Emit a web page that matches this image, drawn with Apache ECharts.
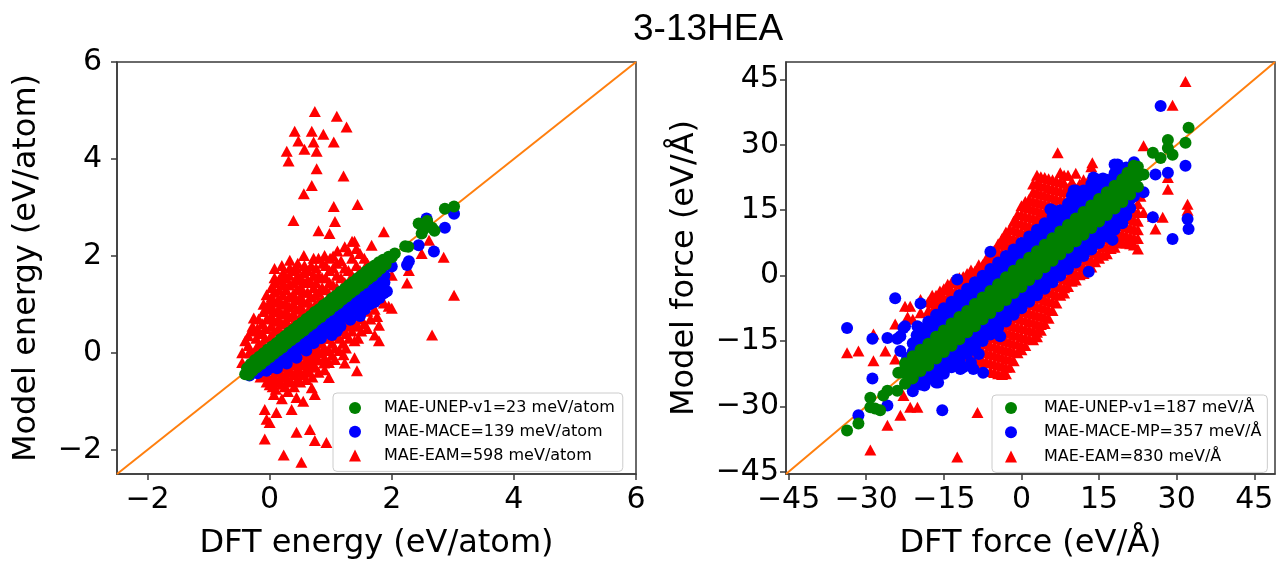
<!DOCTYPE html>
<html><head><meta charset="utf-8">
<script src="https://cdn.jsdelivr.net/npm/echarts@6/dist/echarts.min.js"></script>
<style>html,body{margin:0;padding:0;background:#fff}#chart{width:1278px;height:565px}</style>
</head><body><div id="chart"></div>
<script>
// ---------- texts ----------
const chartTitle = '3-13HEA';
const energyNames = ['MAE-UNEP-v1=23 meV/atom', 'MAE-MACE=139 meV/atom', 'MAE-EAM=598 meV/atom'];
const forceNames = ['MAE-UNEP-v1=187 meV/Å', 'MAE-MACE-MP=357 meV/Å', 'MAE-EAM=830 meV/Å'];
const energyTicks = [-2, 0, 2, 4, 6];
const forceTicks = [-45, -30, -15, 0, 15, 30, 45];
const energyRange = [-2.5, 6];
const forceRange = [-45.5, 49];

// ---------- energy panel (eV/atom): [DFT, model] ----------
const energyUNEP = [
[-0.40,-0.44],[-0.37,-0.32],[-0.34,-0.45],[-0.31,-0.23],[-0.28,-0.37],[-0.24,-0.15],[-0.21,-0.30],[-0.17,-0.08],[-0.14,-0.23],[-0.10,-0.01],
[-0.07,-0.16],[-0.03,0.07],[0.00,-0.09],[0.04,0.13],[0.07,-0.02],[0.11,0.20],[0.14,0.05],[0.18,0.28],[0.21,0.11],[0.25,0.34],
[0.28,0.19],[0.32,0.42],[0.35,0.26],[0.39,0.48],[0.42,0.32],[0.46,0.56],[0.49,0.40],[0.53,0.62],[0.56,0.46],[0.60,0.70],
[0.63,0.54],[0.67,0.76],[0.70,0.60],[0.74,0.84],[0.77,0.68],[0.81,0.90],[0.84,0.74],[0.88,0.98],[0.91,0.82],[0.95,1.04],
[0.98,0.88],[1.02,1.12],[1.05,0.96],[1.09,1.18],[1.12,1.02],[1.16,1.26],[1.19,1.10],[1.23,1.32],[1.26,1.16],[1.30,1.40],
[1.33,1.24],[1.37,1.46],[1.40,1.30],[1.44,1.54],[1.47,1.38],[1.51,1.60],[1.54,1.44],[1.58,1.68],[1.61,1.52],[1.65,1.74],
[1.68,1.58],[1.72,1.80],[1.75,1.66],[1.79,1.87],[1.82,1.74],[1.86,1.92],[1.90,1.82],[1.95,1.98],[2.00,1.97],[2.05,2.05],
[0.50,0.48],[1.00,1.00],[1.50,1.49],[0.00,0.01],
[2.22,2.20],[2.27,2.19],[2.44,2.67],[2.49,2.46],[2.52,2.55],[2.58,2.72],[2.66,2.58],[2.70,2.52],[2.87,2.97],[3.02,3.02]
];
const energyMACE = [
[-0.33,-0.47],[-0.28,-0.38],[-0.20,-0.42],[-0.20,-0.30],[-0.12,-0.36],[-0.12,-0.25],[-0.05,-0.37],[-0.05,-0.20],[0.05,-0.30],[0.05,-0.12],
[0.12,-0.20],[0.12,-0.05],[0.12,-0.32],[0.20,-0.15],[0.20,0.02],[0.28,-0.08],[0.28,0.10],[0.28,-0.22],[0.36,0.00],[0.36,0.16],
[0.44,0.05],[0.44,0.24],[0.44,-0.10],[0.52,0.12],[0.52,0.30],[0.60,0.20],[0.60,0.38],[0.60,0.05],[0.68,0.28],[0.68,0.45],
[0.72,0.20],[0.76,0.35],[0.76,0.52],[0.84,0.42],[0.84,0.60],[0.84,0.30],[0.92,0.50],[0.92,0.68],[1.00,0.55],[1.00,0.75],
[1.00,0.40],[1.02,0.37],[1.08,0.64],[1.08,0.82],[1.10,0.45],[1.16,0.72],[1.16,0.90],[1.16,0.55],[1.24,0.80],[1.24,0.98],
[1.32,0.86],[1.32,1.05],[1.32,0.68],[1.40,0.95],[1.40,1.12],[1.48,1.00],[1.48,1.20],[1.48,0.76],[1.56,1.10],[1.56,1.28],
[1.56,0.90],[1.64,1.20],[1.64,1.36],[1.64,1.00],[1.72,1.25],[1.72,1.45],[1.72,1.05],[1.80,1.13],[1.80,1.35],[1.80,1.50],
[1.88,1.25],[1.88,1.45],[1.88,1.60],[1.92,1.27],[1.84,1.48],[1.87,1.23],[2.00,1.78],[2.25,1.81],[2.28,1.89],[2.44,2.22],
[2.57,2.77],[2.69,2.09],[2.87,2.58],[3.02,2.87]
];
const energyEAM = [
[0.74,4.98],[1.10,4.88],[1.26,4.66],[0.41,4.57],[0.69,4.57],[0.88,4.51],[0.47,4.37],[0.72,4.35],[1.05,4.35],[0.28,4.16],
[0.57,4.20],[0.77,4.16],[0.31,3.96],[0.77,3.80],[1.21,3.65],[0.69,3.45],[0.56,3.28],[1.05,3.02],[1.44,3.06],[0.39,2.73],
[1.07,2.71],[0.80,2.52],[0.98,2.46],[1.87,2.50],[1.39,2.30],[1.67,2.22],
[-0.45,-0.20],[-0.45,0.00],[-0.35,0.15],[-0.35,0.35],[-0.28,0.55],[-0.26,0.72],[-0.22,-0.05],[-0.22,0.10],[-0.22,0.30],[-0.20,0.50],
[-0.12,0.00],[-0.12,0.20],[-0.12,0.40],[-0.12,0.60],[-0.10,0.85],[-0.10,1.00],[-0.05,1.20],[-0.05,0.70],[0.02,0.15],[0.02,0.35],
[0.02,0.55],[0.02,0.75],[0.02,0.95],[0.03,1.15],[0.03,1.35],[0.08,1.55],[0.08,1.74],[0.14,0.30],[0.14,0.50],[0.14,0.70],
[0.14,0.90],[0.14,1.10],[0.15,1.30],[0.15,1.50],[0.22,1.65],[0.22,1.40],[0.22,1.20],[0.26,0.45],[0.26,0.65],[0.26,0.85],
[0.26,1.05],[0.27,1.30],[0.27,1.55],[0.33,1.91],[0.33,1.75],[0.38,0.60],[0.38,0.80],[0.38,1.00],[0.38,1.20],[0.39,1.45],
[0.39,1.70],[0.46,1.85],[0.46,1.60],[0.50,0.75],[0.50,0.95],[0.50,1.15],[0.50,1.35],[0.50,1.55],[0.56,2.01],[0.57,1.80],
[0.62,0.85],[0.62,1.05],[0.62,1.25],[0.62,1.50],[0.63,1.70],[0.72,1.95],[0.72,1.60],[0.72,1.35],[0.75,1.00],[0.75,1.20],
[0.76,1.45],[0.76,1.75],[0.86,1.10],[0.86,1.35],[0.86,1.55],[0.87,1.85],[0.90,2.01],[0.98,1.20],[0.98,1.45],[0.98,1.70],
[0.99,1.95],[1.10,1.35],[1.10,1.60],[1.10,1.85],[1.11,2.10],[1.23,1.45],[1.23,1.75],[1.23,2.19],[1.35,1.60],[1.35,1.95],
[1.35,2.30],[1.48,1.70],[1.48,2.05],[1.60,1.85],
[-0.40,0.25],[-0.30,0.00],[-0.30,0.45],[-0.18,0.15],[-0.18,0.70],[-0.17,0.40],[-0.07,0.10],[-0.07,0.30],[-0.07,0.50],[-0.03,0.90],
[0.00,1.05],[0.08,0.25],[0.08,0.45],[0.08,0.65],[0.08,0.85],[0.08,1.05],[0.09,1.25],[0.09,1.45],[0.20,0.40],[0.20,0.60],
[0.20,0.80],[0.20,1.00],[0.20,1.50],[0.20,1.80],[0.32,0.55],[0.32,0.75],[0.32,0.95],[0.32,1.15],[0.32,1.40],[0.32,1.60],
[0.44,0.70],[0.44,0.90],[0.44,1.10],[0.44,1.30],[0.44,1.50],[0.44,1.75],[0.56,0.85],[0.56,1.05],[0.56,1.25],[0.56,1.45],
[0.56,1.65],[0.68,0.95],[0.68,1.15],[0.68,1.45],[0.68,1.80],[0.80,1.05],[0.80,1.25],[0.80,1.60],[0.80,1.95],[0.92,1.30],
[0.92,1.55],[0.92,1.80],[1.04,1.40],[1.04,1.75],[1.04,2.00],[1.17,1.55],[1.17,1.90],[1.29,1.70],[1.29,2.10],[1.42,1.80],
[1.42,2.15],[1.55,1.95],
[-0.15,-0.35],[-0.15,-0.50],[-0.05,-0.45],[-0.05,-0.60],[-0.05,-0.30],[0.05,-0.30],[0.05,-0.50],[0.05,-0.70],[0.07,-0.86],[0.15,-0.20],
[0.15,-0.40],[0.15,-0.60],[0.25,-0.10],[0.25,-0.30],[0.25,-0.50],[0.25,-0.70],[0.35,0.00],[0.35,-0.20],[0.35,-0.40],[0.35,-0.60],
[0.45,0.05],[0.45,-0.15],[0.45,-0.35],[0.45,-0.55],[0.44,-0.92],[0.55,0.15],[0.55,-0.05],[0.55,-0.25],[0.55,-0.45],[0.65,0.20],
[0.65,0.00],[0.65,-0.20],[0.65,-0.40],[0.69,-0.72],[0.75,0.30],[0.75,0.10],[0.75,-0.10],[0.75,-0.30],[0.74,-0.86],[0.85,0.40],
[0.85,0.20],[0.85,0.00],[0.89,-0.21],[0.97,0.50],[0.97,0.30],[0.97,0.05],[0.97,-0.20],[0.97,-0.51],[1.07,0.60],[1.07,0.35],
[1.07,0.10],[1.07,-0.14],[1.20,0.70],[1.20,0.45],[1.20,0.20],[1.21,-0.04],[1.23,-0.21],[1.30,0.80],[1.30,0.55],[1.30,0.30],
[1.40,0.85],[1.40,0.60],[1.39,0.25],[1.39,-0.10],[1.43,-0.37],[1.50,1.00],[1.50,0.70],[1.50,0.45],[1.60,1.10],[1.60,0.86],
[1.60,0.50],[1.72,1.20],[1.72,0.90],[1.72,0.37],[1.79,0.57],[1.79,0.25],[1.87,1.03],[1.95,0.96],[2.00,0.92],[2.00,1.60],
[-0.10,-0.40],[0.00,-0.55],[0.10,-0.35],[0.10,-0.55],[0.10,-0.75],[0.20,-0.25],[0.20,-0.45],[0.20,-0.65],[0.30,-0.15],[0.30,-0.35],
[0.30,-0.55],[0.40,-0.05],[0.40,-0.25],[0.40,-0.45],[0.40,-0.70],[0.50,0.00],[0.50,-0.20],[0.50,-0.40],[0.50,-0.60],[0.60,0.05],
[0.60,-0.15],[0.60,-0.35],[0.60,-0.55],[0.70,0.15],[0.70,-0.05],[0.70,-0.25],[0.70,-0.50],[0.80,0.25],[0.80,0.05],[0.80,-0.15],
[0.80,-0.40],[0.90,0.30],[0.90,0.10],[0.90,-0.10],[0.90,-0.35],[1.02,0.45],[1.02,0.20],[1.02,-0.05],[1.14,0.55],[1.14,0.30],
[1.14,0.05],[1.25,0.65],[1.25,0.40],[1.25,0.10],[1.35,0.70],[1.35,0.45],[1.45,0.80],[1.45,0.55],[1.45,0.30],[1.55,0.90],
[1.55,0.60],[1.65,1.00],[1.65,0.70],[1.76,1.10],[1.76,0.75],
[-0.34,0.00],[-0.10,0.04],[0.00,-0.66],[-0.08,-1.17],[0.11,-1.23],[0.36,-1.17],[-0.05,-1.37],[0.00,-1.44],[0.44,-1.64],[0.66,-1.58],
[0.74,-1.81],[0.93,-1.85],[-0.08,-1.78],[0.23,-2.11],[0.52,-2.26],[0.20,-0.95],[0.55,-1.00],[0.30,-0.80],
[2.25,1.44],[2.28,1.70],[2.49,2.05],[2.61,2.32],[2.85,1.97],[3.02,1.19],[2.66,0.37]
];

// ---------- force panel (eV/Å): columns [DFT, model, model, ...] + scattered points ----------
const forceUNEPCols = [
[-22.5,-24.8,-22.3,-20.1],[-21,-23.4,-20.8,-18.5],[-19.5,-21.9,-19.4,-17.0],[-18,-20.6,-17.8,-15.6],[-16.5,-19.0,-16.3,-14.0],
[-15,-17.5,-14.8,-12.6],[-13.5,-16.1,-13.4,-11.0],[-12,-14.6,-11.9,-9.5],[-10.5,-13.0,-10.4,-8.1],[-9,-11.6,-8.9,-6.5],
[-7.5,-10.0,-7.4,-5.0],[-6,-8.6,-5.9,-3.5],[-4.5,-7.0,-4.4,-2.0],[-3,-5.6,-2.9,-0.4],[-1.5,-4.0,-1.4,1.1],
[0,-2.6,0.1,2.6],[1.5,-1.0,1.6,4.1],[3,0.4,3.1,5.6],[4.5,1.9,4.6,7.1],[6,3.4,6.1,8.6],
[7.5,4.9,7.6,10.1],[9,6.4,9.1,11.6],[10.5,7.9,10.6,13.1],[12,9.4,12.1,14.6],[13.5,10.9,13.6,16.1],
[15,12.4,15.1,17.6],[16.5,13.9,16.6,19.1],[18,15.4,18.1,20.6],[19.5,16.9,19.6,22.1],[21,18.6,21.2,23.6],[22.5,20.4,22.8,25.0],
[-21.75,-23,-20.5],[-20.25,-21.5,-19],[-18.75,-20,-17.5],[-17.25,-18.5,-16],[-15.75,-17,-14.5],[-14.25,-15.5,-13],
[-12.75,-14,-11.5],[-11.25,-12.5,-10],[-9.75,-11,-8.5],[-8.25,-9.5,-7],[-6.75,-8,-5.5],[-5.25,-6.5,-4],[-3.75,-5,-2.5],
[-2.25,-3.5,-1],[-0.75,-2,0.5],[0.75,-0.5,2],[2.25,1,3.5],[3.75,2.5,5],[5.25,4,6.5],[6.75,5.5,8],[8.25,7,9.5],
[9.75,8.5,11],[11.25,10,12.5],[12.75,11.5,14],[14.25,13,15.5],[15.75,14.5,17],[17.25,16,18.5],[18.75,17.5,20],
[20.25,19,21.5],[21.75,20.5,23]
];
const forceUNEPPts = [
[32.3,33.9],[31.7,30.5],[28.3,31.1],[28.3,29.3],[25.4,28.2],[26.9,27.0],[29.2,27.7],[21.7,25.2],[23.6,23.2],[20.5,23.6],
[-23.8,-22.3],[-22.5,-21.4],[-21.1,-23.6],[-20.1,-19.1],[-18.2,-20],[-29.2,-28],[-25.9,-26.4],[-24,-26.4],[-28.3,-30.5],[-27.3,-30.9],
[-29.2,-30.2],[-31.5,-33.9],[-33.7,-35.5],[-26.7,-27.5],[-23,-22.3]
];
const forceMACECols = [
[-21,-17.5,-15.5,-24.5,-26.5],[-20.25,-15.7,-13.7,-24.7],[-19.5,-16,-14,-12,-23,-25],[-18.75,-14.2,-12.2,-23.2,-25.2],
[-18,-14.5,-12.5,-10.5,-21.5,-23.5],[-17.25,-12.7,-10.7,-21.7,-23.7],[-16.5,-13,-11,-9,-20,-22,-24.5],[-15.75,-11.2,-9.2,-20.2,-22.2],
[-15,-11.5,-9.5,-7.5,-18.5,-20.5,-22.5],[-14.25,-9.7,-7.7,-18.7,-20.7],[-13.5,-10,-8,-6,-17,-19,-21],[-12.75,-8.2,-6.2,-17.2,-19.2],
[-12,-8.5,-6.5,-4.5,-15.5,-17.5,-19.5],[-11.25,-6.7,-4.7,-15.7,-17.7,-21],[-10.5,-7,-5,-3,-14,-16,-18],[-9.75,-5.2,-3.2,-14.2,-16.2,-20],
[-9,-5.5,-3.5,-1.5,-12.5,-14.5,-16.5],[-8.25,-3.7,-1.7,-12.7,-14.7,-18],[-7.5,-4,-2,0,-11,-13,-15],[-6.75,-2.2,-0.2,-11.2,-13.2],
[-6,-2.5,-0.5,1.5,-9.5,-11.5,-13.5],[-5.25,-0.7,1.3,-9.7,-11.7],[-4.5,-1,1,3,-8,-10,-12],[-3.75,0.8,2.8,-8.2,-10.2],
[-3,0.5,2.5,4.5,-6.5,-8.5,-10.5],[-2.25,2.3,4.3,-6.7,-8.7],[-1.5,2,4,6,-5,-7,-9],[-0.75,3.8,5.8,-5.2,-7.2],
[0,3.5,5.5,7.5,-3.5,-5.5,-7.5],[0.75,5.3,7.3,-3.7,-5.7],[1.5,5,7,9,-2,-4,-6],[2.25,6.8,8.8,-2.2,-4.2],
[3,6.5,8.5,10.5,-0.5,-2.5,-4.5],[3.75,8.3,10.3,-0.7,-2.7],[4.5,8,10,12,1,-1,-3],[5.25,9.8,11.8,0.8,-1.2],
[6,9.5,11.5,13.5,15,2.5,0.5,-1.5],[6.75,11.3,13.3,2.3,0.3],[7.5,11,13,15,4,2,0],[8.25,12.8,14.8,3.8,1.8],
[9,12.5,14.5,16.5,5.5,3.5,1.5],[9.75,14.3,16.3,18.3,5.3,3.3],[10.5,14,16,18,19.5,7,5,3],[11.25,15.8,17.8,6.8,4.8],
[12,15.5,17.5,19.5,8.5,6.5,4.5],[12.75,17.3,19.3,8.3,6.3],[13.5,17,19,21,10,8,6],[14.25,18.8,20.8,9.8,7.8],
[15,18.5,20.5,22,11.5,9.5,7.5],[15.75,20.3,22.3,11.3,9.3],[16.5,20,22,13,11,9],[17.25,21.8,12.8,10.8],
[18,21.5,23.5,25.5,14.5,12.5,10.5],[18.75,23.3,14.3,12.3],[19.5,23,24.5,16,14,12],[20.25,24.8,15.8,13.8],
[21,24.5,17.5,15.5],[21.75,26,18.2]
];
const forceMACEPts = [
[26.9,38.9],[31.7,25.2],[28.3,23.6],[25.9,23.2],[23.6,19.1],[25.4,13.4],[29.2,8.4],[32.1,13.0],[32.3,10.7],[18.6,25.5],
[17.6,8.2],[13.0,0.9],[13.9,22.5],[10.1,19.5],[5.6,15.2],[-6,5.5],[-12.4,-0.9],[-19.5,-6.4],[-24.4,-5.2],[-20.1,-11.6],
[-22.5,-11.6],[-22.8,-12],[-23.4,-13.9],[-24,-14.5],[-25.9,-14.3],[-28.8,-14.5],[-33.7,-12],[-23.4,-17.3],[-22.1,-18.9],[-28.8,-23.6],
[-31.5,-32],[-25.9,-29.8],[-15.3,-30.9],[-16.1,-24.5],[-19,-24.5],[-7.4,-22.3],[-9.3,-21.4],[-11.8,-21.4],[-15.1,-21.1],[-4.1,-13.9]
];
const forceEAMCols = [
[-18,-14,-12,-10,-8,-6,-21],[-17.25,-12.2,-10.2,-8.2,-6.2,-4.5,-21.5],[-16.5,-12.5,-10.5,-8.5,-6.5,-4.5,-20.5,-22],
[-15.75,-10.7,-8.7,-6.7,-4.7,-3.5,-20.7],[-15,-11,-9,-7,-5,-3,-19,-21],[-14.25,-9.2,-7.2,-5.2,-3.2,-2,-19.2],
[-13.5,-9.5,-7.5,-5.5,-3.5,-1.5,-17.5,-19.5],[-12.75,-7.7,-5.7,-3.7,-1.7,-17.7,-19.7],[-12,-8,-6,-4,-2,-0.5,-16,-18,-20],
[-11.25,-6.2,-4.2,-2.2,-0.2,-16.2,-18.2],[-10.5,-6.5,-4.5,-2.5,-0.5,0.5,-14.5,-16.5,-18.5],[-9.75,-4.7,-2.7,-0.7,1.3,-14.7,-16.7,-18.7],
[-9,-5,-3,-1,1,-13,-15,-17,-19,-20],[-8.25,-3.2,-1.2,0.8,2.5,-13.2,-15.2,-17.2,-19.2],
[-7.5,-3.5,-1.5,0.5,2.5,-11.5,-13.5,-15.5,-17.5,-19.5,-21],[-6.75,-1.7,0.3,2.3,4,-11.7,-13.7,-15.7,-17.7,-19.7],
[-6,-2,0,2,4,5,-10,-12,-14,-16,-18,-20,-22],[-5.25,-0.2,1.8,3.8,5.8,-10.2,-12.2,-14.2,-16.2,-18.2,-20.2,-22.2],
[-4.5,-0.5,1.5,3.5,5.5,7.3,-8.5,-10.5,-12.5,-14.5,-16.5,-18.5,-20.5,-22.5],
[-3.75,1.2,3.2,5.2,7.2,8.5,-8.7,-10.7,-12.7,-14.7,-16.7,-18.7,-20.7,-22.7],
[-3,1,3,5,7,9,10,-7,-9,-11,-13,-15,-17,-19,-21,-22.5],[-2.25,2.7,4.7,6.7,8.7,10.7,-7.2,-9.2,-11.2,-13.2,-15.2,-17.2,-19.2,-21],
[-1.5,2.5,4.5,6.5,8.5,10.5,12.5,-5.5,-7.5,-9.5,-11.5,-13.5,-15.5,-17.5,-19.5],
[-0.75,4.2,6.2,8.2,10.2,12.2,14,-5.7,-7.7,-9.7,-11.7,-13.7,-15.7,-17.7],
[0,4,6,8,10,12,14,16,-4,-6,-8,-10,-12,-14,-16,-17],[0.75,5.7,7.7,9.7,11.7,13.7,15.7,17,-4.2,-6.2,-8.2,-10.2,-12.2,-14.2,-16],
[1.5,5.5,7.5,9.5,11.5,13.5,15.5,17.5,-2.5,-4.5,-6.5,-8.5,-10.5,-12.5,-14.5],
[2.25,7.2,9.2,11.2,13.2,15.2,17.2,19.2,21,-2.7,-4.7,-6.7,-8.7,-10.7,-12.7,-14.7],
[3,7,9,11,13,15,17,19,21,23,-1,-3,-5,-7,-9,-11,-13,-14],[3.75,8.7,10.7,12.7,14.7,16.7,18.7,20.7,22.7,-1.2,-3.2,-5.2,-7.2,-9.2,-11.2,-12.5],
[4.5,8.5,10.5,12.5,14.5,16.5,18.5,20.5,22.5,0.5,-1.5,-3.5,-5.5,-7.5,-9.5,-11],[5.25,10.2,12.2,14.2,16.2,18.2,20.2,22.2,0.2,-1.8,-3.8,-5.8,-7.8,-9.8],
[6,10,12,14,16,18,20,22,2,0,-2,-4,-6,-8],[6.75,11.7,13.7,15.7,17.7,19.7,21.7,1.7,-0.3,-2.3,-4.3,-6.3],
[7.5,11.5,13.5,15.5,17.5,19.5,21.5,23.6,3.5,1.5,-0.5,-2.5,-4.5],[8.25,13.2,15.2,17.2,19.2,21.2,23,3.2,1.2,-0.8,-2.8,-4],
[9,14,17,20,23,5,3,1,-1,-2.5],[9.75,15.7,18.7,21.5,4.7,2.7,0.7,-1.3],
[10.5,15.5,20,23.5,6.5,4.5,2.5,0.5,-1],[11.25,17,21,6.2,4.2,2.2,0.2],
[12,16.5,19,22,8,6,4,2,0.5],[12.75,18,21.5,7.7,5.7,3.7,1.7],
[13.5,17.5,20.5,25,9.5,7.5,5.5,3.5,2],[14.25,19.2,9.2,7.2,5.2,3.2],
[15,19,22,11,9,7,5,4],[15.75,20.5,10.7,8.7,6.7,4.7],[16.5,20.5,12.5,10.5,8.5,6.5,5],
[17.25,21.5,12.2,10.2,8.2,6.2],[18,21,14,12,10,8,6.5],[18.75,13.7,11.7,9.7,7.7],[19.5,15.5,13.5,11.5,9.5,7.5],
[20.25,15.2,13.2,11.2,9.2,7.5],[21,17,15,13,11,9,7.3],[21.75,14.7,12.7,10.7,8.7,7],[22.5,16.5,14.5,12.5,10.5,8.5,6.1]
];
const forceEAMPts = [
[-22.5,-7],[-21.5,-7],[-22,-9.5],[-21,-10],[-19.5,-5.5],[-19.5,-8.5],[-20,-12],[-19,-17.5],[-21.5,-19],[-20.5,-20],
[-22.8,-27.5],[-21.5,-30.2],[-20.1,-30.2],[-23.4,-32],[-25.9,-34.3],[-29.2,-40],[-12.4,-41.6],[-8.5,-31.4],
[-33.7,-17.7],[-31.5,-17.3],[-28.6,-19.5],[-24.4,-19.1],[-26.3,-17.3],[-24.4,-11.1],[-28.6,-13.4],[-16.3,-4.8],
[7,28.2],[13.7,25.9],[23.6,29.8],[29.2,39.1],[31.7,44.5],[23,18.2],[23.6,14.5],[25.4,13.6],[27.3,13.4],[25.9,10.7],
[28.3,22.5],[28.3,19.8],[32.1,16.4],[32.1,15],[21.1,8],[19.2,7.7],[16.6,19.1],[17.2,21.4]
];

// ---------- helpers ----------
const expandCols = cols => cols.flatMap(c => c.slice(1).map(y => [c[0], y]));
const forceUNEP = expandCols(forceUNEPCols).concat(forceUNEPPts);
const forceMACE = expandCols(forceMACECols).concat(forceMACEPts);
const forceEAM = expandCols(forceEAMCols).concat(forceEAMPts);

const FONT = 'DejaVu Sans';
const spine = {color: '#3a3a3a', width: 1.5};
const green = '#008000', blue = '#0000ff', red = '#ff0000', orange = '#ff7f0e';
const fmt = v => (v < 0 ? '\u2212' + Math.abs(v) : String(v));

function makeAxis(gridIndex, range, ticks, name, nameGap, labelMargin) {
  return {
    gridIndex, type: 'value', min: range[0], max: range[1],
    name, nameLocation: 'middle', nameGap,
    nameTextStyle: {fontFamily: FONT, fontSize: 32, color: '#000'},
    axisLine: {show: true, onZero: false, lineStyle: spine},
    axisTick: {show: true, inside: false, length: 6, lineStyle: spine, customValues: ticks},
    axisLabel: {customValues: ticks, formatter: fmt, fontFamily: FONT, fontSize: 30, color: '#000', margin: labelMargin},
    splitLine: {show: false}
  };
}
function scatter(name, data, xi, color, symbol) {
  return {
    name, type: 'scatter', xAxisIndex: xi, yAxisIndex: xi, data,
    symbol, symbolSize: symbol === 'triangle' ? [12, 11] : 12,
    itemStyle: {color, opacity: 1}, z: 3, silent: true
  };
}
function diag(range, xi) {
  return {
    type: 'line', xAxisIndex: xi, yAxisIndex: xi, data: [[range[0], range[0]], [range[1], range[1]]],
    symbol: 'none', lineStyle: {color: orange, width: 2}, z: 2, silent: true
  };
}
function legend(names, left, top, padding, textGap, gap) {
  return {
    left, top, orient: 'vertical', itemWidth: 12, itemHeight: 12, itemGap: gap, padding,
    selectedMode: false,
    backgroundColor: 'rgba(255,255,255,0.85)', borderColor: '#cccccc', borderWidth: 1, borderRadius: 4,
    data: [{name: names[0], icon: 'circle'}, {name: names[1], icon: 'circle'}, {name: names[2], icon: 'triangle'}],
    formatter: n => '{g| }' + n,
    textStyle: {fontFamily: FONT, fontSize: 16, color: '#000', lineHeight: 18,
                rich: {g: {width: textGap, fontSize: 16, lineHeight: 18}}}
  };
}

const chart = echarts.init(document.getElementById('chart'), null, {renderer: 'canvas'});
chart.setOption({
  animation: false,
  backgroundColor: '#fff',
  title: {text: chartTitle, left: 633, top: 11, padding: 0,
          textStyle: {fontFamily: 'Liberation Sans', fontSize: 37, fontWeight: 'normal', color: '#000'}},
  grid: [
    {left: 117, top: 62, width: 519, height: 415, show: true, borderColor: '#3a3a3a', borderWidth: 1.5},
    {left: 786, top: 62, width: 489, height: 416, show: true, borderColor: '#3a3a3a', borderWidth: 1.5}
  ],
  xAxis: [
    makeAxis(0, energyRange, energyTicks, 'DFT energy (eV/atom)', 54, 11),
    makeAxis(1, forceRange, forceTicks, 'DFT force (eV/Å)', 54, 11)
  ],
  yAxis: [
    makeAxis(0, energyRange, energyTicks, 'Model energy (eV/atom)', 74, 15),
    makeAxis(1, forceRange, forceTicks, 'Model force (eV/Å)', 85, 7)
  ],
  legend: [
    legend(energyNames, 333, 393, [6, 8, 7, 16], 18, 5.7),
    legend(forceNames, 992, 395, [4, 6, 7, 13], 22, 6.2)
  ],
  series: [
    diag(energyRange, 0),
    scatter(energyNames[2], energyEAM, 0, red, 'triangle'),
    scatter(energyNames[1], energyMACE, 0, blue, 'circle'),
    scatter(energyNames[0], energyUNEP, 0, green, 'circle'),
    diag(forceRange, 1),
    scatter(forceNames[2], forceEAM, 1, red, 'triangle'),
    scatter(forceNames[1], forceMACE, 1, blue, 'circle'),
    scatter(forceNames[0], forceUNEP, 1, green, 'circle')
  ]
});
</script>
</body></html>
